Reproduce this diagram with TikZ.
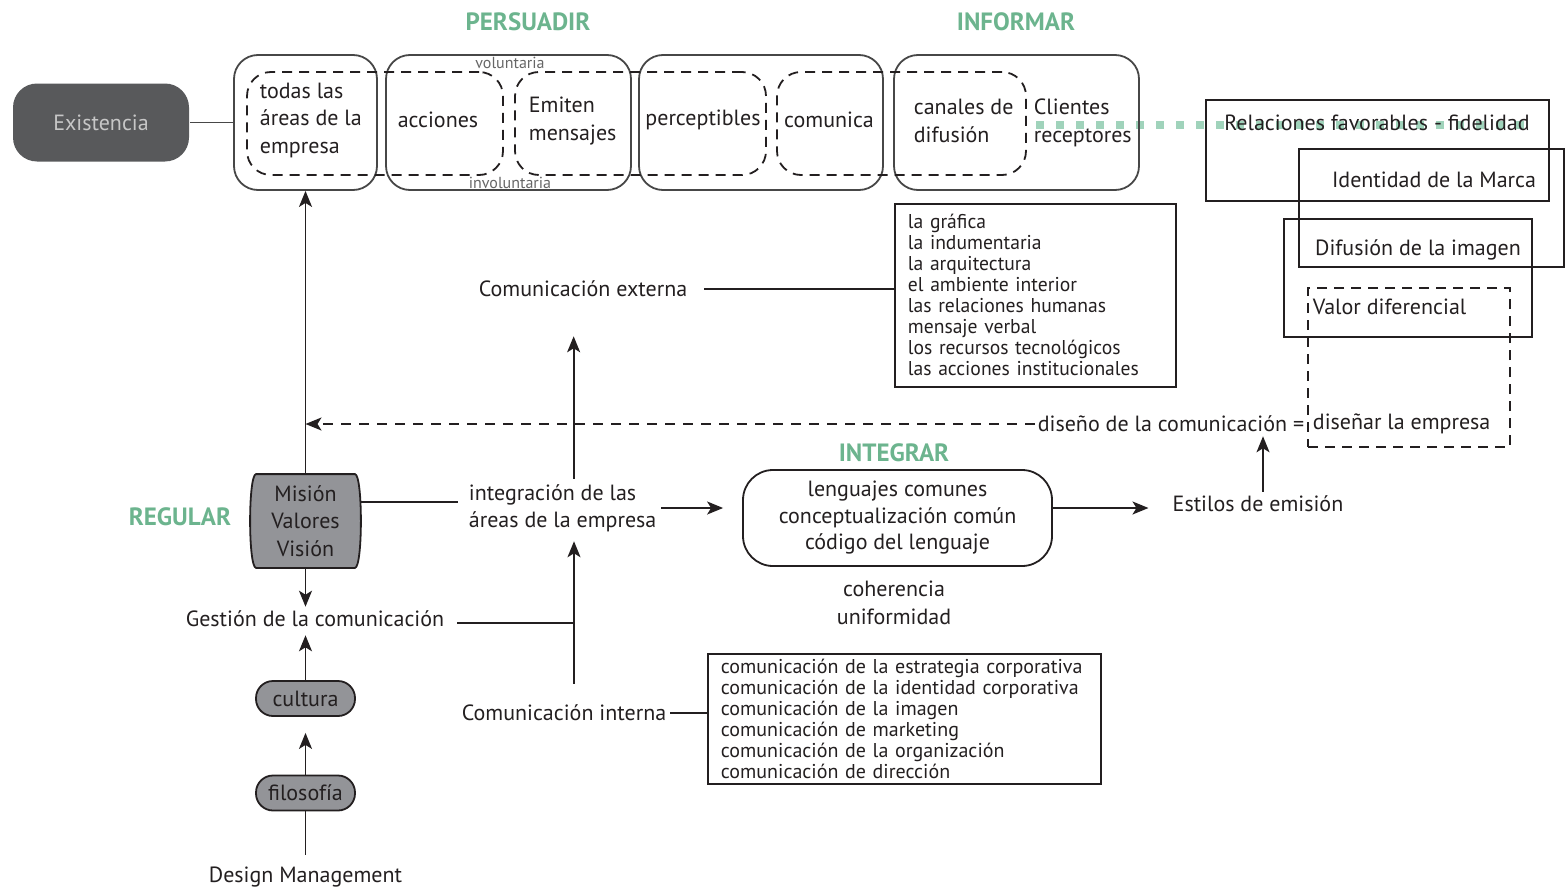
\documentclass[tikz,border=0pt]{standalone}
\usepackage{fontspec}
\setmainfont{PT Sans}
\newfontfamily\narrowfont[FakeStretch=0.98]{PT Sans}
\usetikzlibrary{arrows.meta}
\definecolor{verde}{RGB}{108,180,142}
\definecolor{verdeclaro}{RGB}{160,211,187}
\definecolor{grisosc}{RGB}{88,89,91}
\definecolor{grismed}{RGB}{147,148,152}
\definecolor{tinta}{RGB}{35,31,32}

\begin{document}
\begin{tikzpicture}[x=1pt,y=-1pt,>={Stealth[length=16pt,width=13pt,inset=4pt]},line width=1.8pt,color=tinta,
  font=\fontsize{22}{27.5}\selectfont]
  \tikzstyle{titulo}=[text=verde,font=\fontsize{25}{28}\selectfont\bfseries]
  \tikzstyle{caja}=[draw=black!72,rounded corners=24pt,minimum height=135pt]
  \tikzstyle{punteada}=[draw,dash pattern=on 10pt off 7pt,rounded corners=24pt,minimum height=103pt]
  \tikzstyle{pastilla}=[draw,fill=grismed,rounded corners=17pt,minimum width=99pt,minimum height=35pt,inner sep=0pt]
  \tikzstyle{marco}=[draw]
  \tikzstyle{lista}=[draw,align=left,inner xsep=13pt,anchor=north west]
  \tikzstyle{rotulo}=[align=left,anchor=west,inner sep=0pt]
  \tikzstyle{chico}=[text=black!60,font=\fontsize{16}{18}\selectfont,inner sep=0pt]
  \useasboundingbox (0,0) rectangle (1568,891);

  % titulos
  \node[titulo] (persuadir) at (528,22) {PERSUADIR};
  \node[titulo] (informar) at (1016,22) {INFORMAR};
  \node[titulo] (integrar) at (894,453) {INTEGRAR};
  \node[titulo] (regular) at (180,517) {REGULAR};

  % fila superior
  \node[fill=grisosc,text=black!22,rounded corners=24pt,minimum width=176pt,
    minimum height=78pt] (existencia) at (101,122.5) {Existencia};
  \coordinate (verdeA) at (1036,125);
  \coordinate (verdeB) at (1533,125);
  \draw[verdeclaro,line width=8pt,dash pattern=on 8pt off 12pt] (verdeA) -- (verdeB);

  \node[caja,minimum width=143pt] (b1) at (305.5,122.5) {};
  \node[caja,minimum width=245pt] (b2) at (508.5,122.5) {};
  \node[caja,minimum width=244pt] (b3) at (761,122.5) {};
  \node[caja,minimum width=245pt] (b4) at (1016.5,122.5) {};
  \node[punteada,minimum width=256pt] (d1) at (375,123.5) {};
  \node[punteada,minimum width=251pt] (d2) at (640.5,123.5) {};
  \node[punteada,minimum width=249pt] (d3) at (901.5,123.5) {};
  \draw[draw=black!72] (existencia) -- (b1);

  \node[rotulo] (todas) at (259,120) {todas las\\áreas de la\\empresa};
  \node (acciones) at (438,120) {acciones};
  \node[rotulo] (emiten) at (528,121) {Emiten\\mensajes};
  \node (perceptibles) at (703,120) {perceptibles};
  \node (comunica) at (829,120) {comunica};
  \node[rotulo] (canales) at (913,121) {canales de\\difusión};
  \node[rotulo] (clientes) at (1033,123) {Clientes\\receptores};
  \node[chico] (voluntaria) at (510,63) {voluntaria};
  \node[chico] (involuntaria) at (510,183) {involuntaria};

  % cajas de la derecha
  \node[marco,minimum width=343pt,minimum height=101pt] (r1) at (1377.5,150.5) {};
  \node[marco,minimum width=265pt,minimum height=118pt] (r2) at (1431.5,208) {};
  \node[marco,minimum width=248pt,minimum height=118pt] (r3) at (1408,278) {};
  \node[draw,dash pattern=on 10pt off 7pt,minimum width=202pt,minimum height=159pt] (r4) at (1409,367.5) {};
  \node (relaciones) at (1377,123) {Relaciones favorables - fidelidad};
  \node (identidad) at (1434,180) {Identidad de la Marca};
  \node (difusion) at (1418,250) {Difusión de la imagen};
  \node[rotulo] (valor) at (1312,307) {Valor diferencial};
  \node[rotulo] (disenar) at (1312,424) {diseñar la empresa};
  \node[anchor=east,inner xsep=2pt] (disenocom) at (1307,424) {diseño de la comunicación =};

  % comunicacion externa
  \node[inner xsep=12pt] (comext) at (583,289) {Comunicación externa};
  \node[lista,text width=255pt,minimum height=183pt,font=\narrowfont\fontsize{20}{21}\selectfont] (externa) at (894,203)
    {la gráfica\\la indumentaria\\la arquitectura\\el ambiente interior\\las relaciones humanas\\mensaje verbal\\los recursos tecnológicos\\las acciones institucionales};

  % centro
  \node[minimum width=109pt,minimum height=92pt] (mision) at (305.5,521) {};
  \draw[fill=grismed] ([xshift=6pt]mision.north west) -- ([xshift=-6pt]mision.north east)
    .. controls ([xshift=2pt]mision.north east) and ([xshift=2pt]mision.south east) .. ([xshift=-6pt]mision.south east)
    -- ([xshift=6pt]mision.south west)
    .. controls ([xshift=-2pt]mision.south west) and ([xshift=-2pt]mision.north west) .. cycle;
  \node[align=center] (misiontxt) at (mision) {Misión\\Valores\\Visión};
  \node[rotulo,inner xsep=10pt] (integ) at (458,508.5) {integración de las\\áreas de la empresa};
  \node[draw,rounded corners=30pt,minimum width=309pt,minimum height=96pt,align=center,
    font=\fontsize{22}{26.5}\selectfont] (lenguajes) at (897.5,518) {lenguajes comunes\\conceptualización común\\código del lenguaje};
  \node[align=center] (coherencia) at (894,603) {coherencia\\uniformidad};
  \node (estilos) at (1258,504) {Estilos de emisión};

  % abajo
  \node[inner xsep=12pt] (gestion) at (315,619) {Gestión de la comunicación};
  \coordinate (union) at (574,623);
  \node (comint) at (564,713) {Comunicación interna};
  \node[lista,text width=367pt,minimum height=130pt,font=\fontsize{20}{21}\selectfont] (interna) at (707,653)
    {comunicación de la estrategia corporativa\\comunicación de la identidad corporativa\\comunicación de la imagen\\comunicación de marketing\\comunicación de la organización\\comunicación de dirección};
  \node[pastilla] (cultura) at (305.5,698.5) {cultura};
  \node[pastilla] (filosofia) at (305.5,793) {filosofía};
  \node (design) at (305.5,877) {Design Management};

  % conectores
  \path (mision.north) edge[->] (b1.south)
        (disenocom.west) edge[->,dash pattern=on 10pt off 8pt] (disenocom.west -| mision.north)
        ([yshift=19pt]mision.east) edge ([yshift=6.5pt]integ.west)
        ([yshift=0.5pt]integ.east) edge[->,shorten <=-6pt,shorten >=19pt] ([yshift=0.5pt]integ.east -| lenguajes.west)
        ([xshift=11pt]integ.north) edge[->,shorten <=5pt,shorten >=35pt] ([xshift=11pt]integ.north |- comext.south)
        (comext.east) edge[shorten <=4pt] (comext.east -| externa.west)
        (mision.south) edge[->] (mision.south |- gestion.north)
        (gestion.east |- union) edge (union)
        (comint.north -| union) edge[->,shorten <=17pt,shorten >=8pt] (integ.south -| union)
        (comint.east) edge (comint.east -| interna.west)
        (cultura.north) edge[->,shorten >=4pt] (cultura.north |- gestion.south)
        (filosofia.north) edge[->,shorten >=16pt] (cultura.south)
        (design.north) edge[shorten <=8pt] (filosofia.south)
        ([yshift=10pt]lenguajes.east) edge[->,shorten >=20pt] ([yshift=10pt]lenguajes.east -| estilos.west)
        ([xshift=5pt]estilos.north) edge[->] ([xshift=5pt]estilos.north |- disenocom.south)
        ;
\end{tikzpicture}
\end{document}
